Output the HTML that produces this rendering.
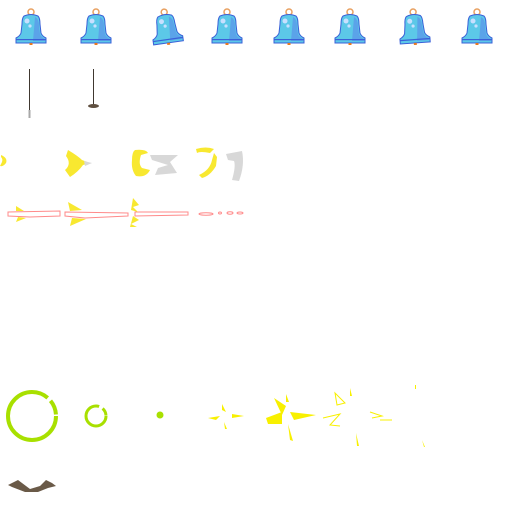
<!DOCTYPE html>
<html><head><meta charset="utf-8"><style>
html,body{margin:0;padding:0;background:#fff;width:512px;height:512px;overflow:hidden}
</style></head><body>
<svg width="512" height="512" viewBox="0 0 512 512" xmlns="http://www.w3.org/2000/svg">
<defs>
<g id="bell">
  <circle cx="0" cy="12" r="3" fill="none" stroke="#e8a060" stroke-width="1.5"/>
  <path d="M-7,16 Q0,13 7,16 Q9,18 9,24 L10,33 Q11,36 15,38 L15,43 L-15,43 L-15,38 Q-11,36 -10,33 L-9,24 Q-9,18 -7,16 Z" fill="#5cc8e8" stroke="#3a60d8" stroke-width="1"/>
  <path d="M4,17 Q8,19 8,26 L9,34 Q10,37 14,39 L14,41 L2,41 Z" fill="#5b9ae8" opacity="0.8"/>
  <rect x="-15" y="39" width="30" height="1.2" fill="#3a60d8"/>
  <circle cx="-4" cy="21" r="2.5" fill="#c8e0ff"/>
  <circle cx="-1" cy="26" r="1.6" fill="#c8e0ff"/>
  <rect x="-1.5" y="43" width="3" height="2" fill="#e87820"/>
</g>
</defs>
<g>
  <use href="#bell" x="31" y="0"/>
  <use href="#bell" x="96" y="0"/>
  <use href="#bell" x="166" y="0" transform="rotate(-8 166 25)"/>
  <use href="#bell" x="227" y="0"/>
  <use href="#bell" x="289" y="0"/>
  <use href="#bell" x="350" y="0"/>
  <use href="#bell" x="414" y="0" transform="rotate(-4 414 25)"/>
  <use href="#bell" x="477" y="0"/>
</g>
<g>
  <line x1="29.5" y1="69" x2="29.5" y2="111" stroke="#403830" stroke-width="1"/>
  <rect x="28.5" y="110" width="2" height="8" fill="#a8a8a8"/>
  <line x1="93.5" y1="69" x2="93.5" y2="106" stroke="#403830" stroke-width="1"/>
  <ellipse cx="93.5" cy="106" rx="5.5" ry="2" fill="#605040"/>
</g>
<g>
  <path d="M1,155 Q8,158 6,163 Q3,167 0,166 L2,162 Q3,159 1,157 Z" fill="#f8e830"/>
  <path d="M68,150 Q78,156 82,160 L90,163 L83,165 Q78,172 70,177 L65,170 Q72,164 66,156 Z" fill="#f8e830"/>
  <path d="M84,161 L92,163 L85,166 Z" fill="#d8d8d8"/>
  <path d="M135,150 Q146,149 148,153 L141,155 Q138,164 142,168 L150,170 Q146,178 136,176 Q131,170 132,160 Q132,152 135,150 Z" fill="#f8e830"/>
  <path d="M150,155 L178,155 L170,162 L177,173 L155,175 L158,168 L168,165 L152,160 Z" fill="#d8d8d8"/>
  <path d="M196,149 Q206,146 214,149 L210,153 Q200,151 197,153 Z" fill="#f8e830"/>
  <path d="M214,153 L217,157 L216,166 Q210,176 202,178 L199,175 Q210,170 212,160 Z" fill="#f8e830"/>
  <path d="M226,154 L242,151 Q245,165 239,181 L232,180 Q236,166 234,161 L228,160 Z" fill="#d8d8d8"/>
</g>
<g fill="none" stroke="#ff8a8a" stroke-width="1">
  <path d="M8,212 L60,211 L60,216 L30,217 L8,216 Z"/>
  <path d="M65,212 L128,213 L128,216 L85,218 L65,216 Z"/>
  <path d="M135,212 L188,212 L188,215 L135,216 Z"/>
  <ellipse cx="206" cy="214" rx="7" ry="1.2"/>
  <ellipse cx="220" cy="213" rx="1.5" ry="1"/>
  <ellipse cx="230" cy="213" rx="3" ry="1.2"/>
  <ellipse cx="240" cy="213" rx="3" ry="1"/>
</g>
<g fill="#f8e830">
  <path d="M16,206 L24,211 L16,211 Z"/><path d="M16,222 L26,218 L18,217 Z"/>
  <path d="M68,202 L82,210 L70,211 Z"/><path d="M70,226 L86,219 L72,218 Z"/>
  <path d="M133,198 L139,205 L133,207 L138,212 L131,210 Z"/>
  <path d="M133,216 L139,220 L131,224 L137,227 L130,227 Z"/>
</g>
<g>
  <circle cx="32" cy="416" r="24" fill="none" stroke="#a8e000" stroke-width="4" stroke-dasharray="130 4 15 4"/>
  <circle cx="96" cy="416" r="10" fill="none" stroke="#a8e000" stroke-width="3" stroke-dasharray="50 4 8 4"/>
  <circle cx="160" cy="415" r="3.5" fill="#a8e000"/>
</g>
<g fill="#f8f000">
  <path d="M232,414 L244,416 L232,418 Z"/><path d="M222,404 L226,412 L222,410 Z"/>
  <path d="M208,418 L220,416 L216,420 Z"/><path d="M224,422 L227,429 L225,429 Z"/>
  <path d="M274,398 L286,406 L282,415 Z"/><path d="M290,412 L316,415 L294,420 Z"/>
  <path d="M266,418 L282,412 L282,424 L268,424 Z"/><path d="M288,424 L293,441 L290,440 Z"/>
  <path d="M286,394 L289,402 L286,402 Z"/>
  <path d="M335,393 L345,403 L337,405 Z" fill="none" stroke="#f8f000"/>
  <path d="M350,388 L352,396 L350,396 Z"/><path d="M323,418 L340,414 L330,425 L340,426" fill="none" stroke="#f8f000"/>
  <path d="M356,433 L359,446 L357,446 Z"/>
  <path d="M370,412 L382,416 L372,418 M380,420 L392,420" fill="none" stroke="#f8f000"/>
  <rect x="415" y="385" width="1" height="4"/><path d="M422,440 L425,447 L424,447 Z"/>
</g>
<g>
  <path d="M8,485 L18,480 L22,483 L30,489 L40,486 L46,480 L52,483 L56,486 L48,488 L38,492 L25,492 L12,487 Z" fill="#6a5a48"/>
</g>
</svg>
</body></html>
